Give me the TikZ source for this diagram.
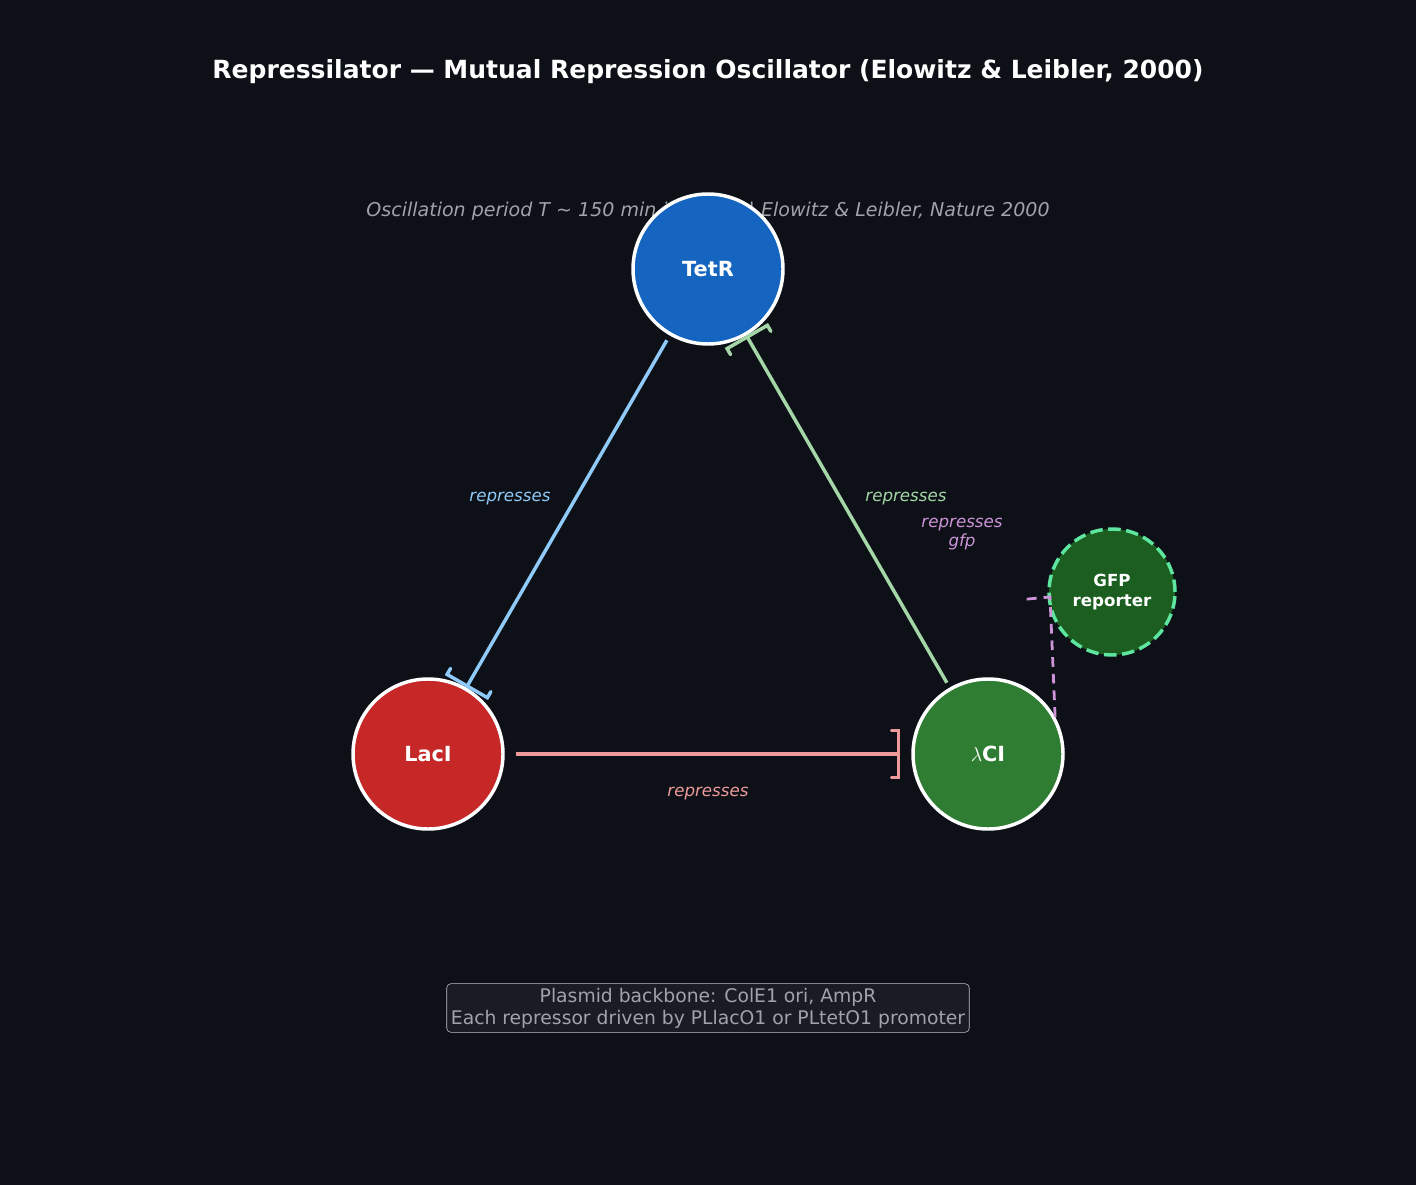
\documentclass[tikz,border=0pt]{standalone}
\usepackage{fontspec}
\setmainfont{DejaVu Sans}
\usetikzlibrary{arrows.meta}
\definecolor{bg}{HTML}{0D1117}
\definecolor{tetr}{HTML}{1565C0}
\definecolor{laci}{HTML}{C62828}
\definecolor{lci}{HTML}{2E7D32}
\definecolor{gfp}{HTML}{1B5E20}
\definecolor{gfpring}{HTML}{5EE6A0}
\definecolor{lblue}{HTML}{90CAF9}
\definecolor{lgreen}{HTML}{A5D6A7}
\definecolor{lred}{HTML}{EF9A9A}
\definecolor{lpurple}{HTML}{CE93D8}
\definecolor{subgray}{HTML}{A0A4AA}
\tikzstyle{gen}= [circle,draw=white,line width=2.5pt,minimum size=150*0.72pt,inner sep=0pt,text=white,font=\fontsize{15}{17}\selectfont\bfseries]
\tikzstyle{rep}= [line width=2.5pt,-{Bracket[width=36pt,length=5pt,line cap=round]}]
\tikzstyle{etiq}= [font=\fontsize{12}{14}\selectfont\itshape]
\begin{document}
\begin{tikzpicture}[x=0.72pt,y=-0.72pt]
	\fill[bg] (0,0) rectangle (1416,1185);
	\useasboundingbox (0,0) rectangle (1416,1185);

	\node (title) at (708,72) [text=white,font=\fontsize{18}{21}\selectfont\bfseries] {Repressilator — Mutual Repression Oscillator (Elowitz \& Leibler, 2000)};
	\node (sub) at (708,211) [text=subgray,font=\fontsize{13.7}{16}\selectfont\itshape] {Oscillation period T \textasciitilde{} 150 min in E. coli | Elowitz \& Leibler, Nature 2000};

	\node (t) at (708,269) [gen,fill=tetr] {TetR};
	\node (l) at (428,754) [gen,fill=laci] {LacI};
	\node (c) at (988,754) [gen,fill=lci] {$\lambda$CI};
	\node (g) at (1112,592) [circle,draw=gfpring,dash pattern=on 9pt off 4pt,line width=2.5pt,minimum size=126*0.72pt,inner sep=0pt,fill=gfp,text=white,align=center,font=\fontsize{12}{15}\selectfont\bfseries] {GFP\\reporter};

	\draw[rep,lblue,shorten <=4pt] (t.240) -- (l.60);
	\draw[rep,lred,shorten <=8pt,shorten >=8pt] (l) -- (c);
	\draw[rep,lgreen,shorten <=4pt] (c.120) -- (t.300);

	\coordinate (gin) at (1050,597);
	\draw[lpurple,line width=2pt,dash pattern=on 7pt off 5pt] (c.29) -- (gin) -- ++(-22,2) -- ++(0,-4);

	\node at (510,499) [etiq,text=lblue] {represses};
	\node at (906,499) [etiq,text=lgreen] {represses};
	\node at (708,794) [etiq,text=lred] {represses};
	\node at (962,534) [etiq,text=lpurple,align=center] {represses\\gfp};

	\node (box) at (708,1008) [draw=subgray!70,fill=white!5!bg,rounded corners=3pt,text=subgray,align=center,inner sep=3pt,font=\fontsize{13.5}{16}\selectfont] {Plasmid backbone: ColE1 ori, AmpR\\Each repressor driven by PLlacO1 or PLtetO1 promoter};
\end{tikzpicture}
\end{document}
